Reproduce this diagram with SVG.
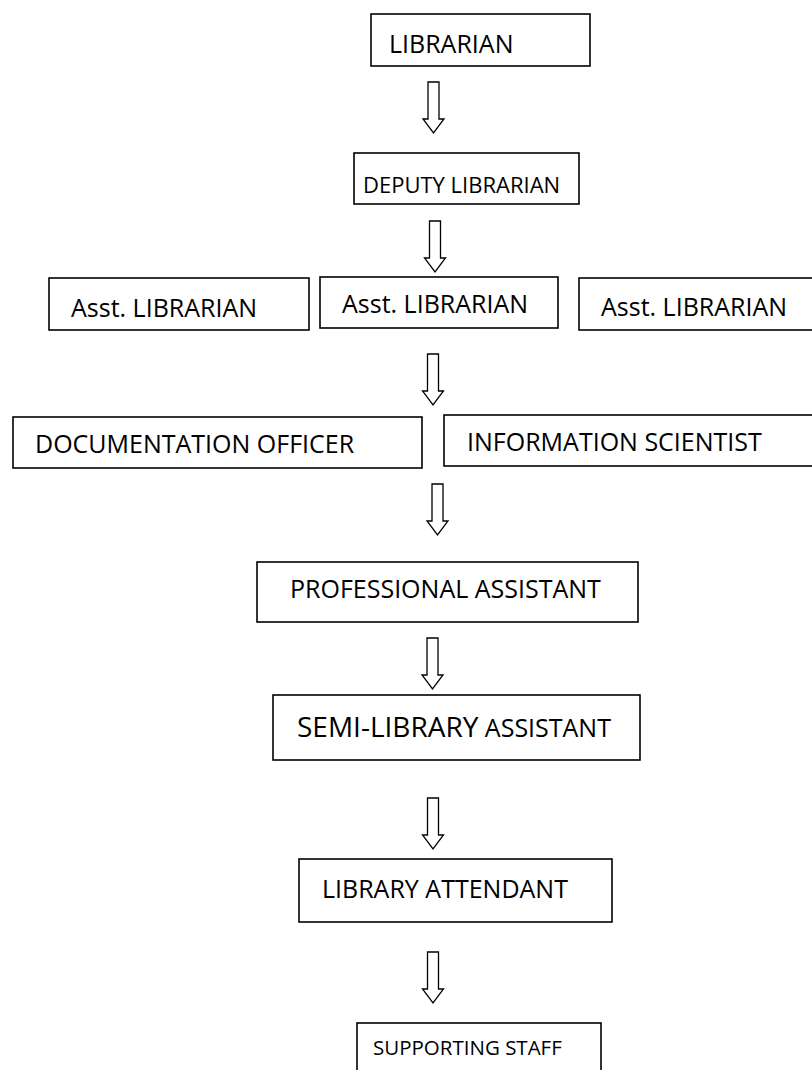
<svg xmlns="http://www.w3.org/2000/svg" width="812" height="1070" viewBox="0 0 812 1070">
<style>
.box{fill:#fff;stroke:#000;stroke-width:1.6}
.t{font-family:"Open Sans","Liberation Sans",sans-serif;font-size:25px;fill:#000}
.arr{fill:#fff;stroke:#000;stroke-width:1.3;stroke-linejoin:miter}
</style>
<defs>
<path id="a" d="M-5.5,0 H5.5 V37 H10.5 L0,51 L-10.5,37 H-5.5 Z"/>
</defs>
<rect width="812" height="1070" fill="#fff"/>
<g id="librarian"><rect class="box" x="371" y="14" width="219" height="52"/><text class="t" x="389" y="53">LIBRARIAN</text></g>
<g id="deputy"><rect class="box" x="354" y="153" width="225" height="51"/><text class="t" x="363" y="193" style="font-size:22px">DEPUTY LIBRARIAN</text></g>
<g id="asst1"><rect class="box" x="49" y="278" width="260" height="52"/><text class="t" x="71" y="317">Asst. LIBRARIAN</text></g>
<g id="asst2"><rect class="box" x="320" y="277" width="238" height="51"/><text class="t" x="342" y="313">Asst. LIBRARIAN</text></g>
<g id="asst3"><rect class="box" x="579" y="278" width="240" height="52"/><text class="t" x="601" y="316">Asst. LIBRARIAN</text></g>
<g id="doc"><rect class="box" x="13" y="417" width="409" height="51"/><text class="t" x="35" y="453">DOCUMENTATION OFFICER</text></g>
<g id="info"><rect class="box" x="444" y="415" width="380" height="51"/><text class="t" x="467" y="451">INFORMATION SCIENTIST</text></g>
<g id="prof"><rect class="box" x="257" y="562" width="381" height="60"/><text class="t" x="290" y="598">PROFESSIONAL ASSISTANT</text></g>
<g id="semi"><rect class="box" x="273" y="695" width="367" height="65"/><text class="t" x="297" y="737"><tspan style="font-size:28px">SEMI-LIBRARY</tspan> ASSISTANT</text></g>
<g id="attendant"><rect class="box" x="299" y="859" width="313" height="63"/><text class="t" x="322" y="898">LIBRARY ATTENDANT</text></g>
<g id="staff"><rect class="box" x="357" y="1023" width="244" height="50"/><text class="t" x="373" y="1055" style="font-size:20.5px">SUPPORTING STAFF</text></g>
<g id="connectors">
<use href="#a" class="arr" x="433.5" y="82"/>
<use href="#a" class="arr" x="435" y="221"/>
<use href="#a" class="arr" x="433" y="354"/>
<use href="#a" class="arr" x="437.5" y="484"/>
<use href="#a" class="arr" x="432.5" y="638"/>
<use href="#a" class="arr" x="433" y="798"/>
<use href="#a" class="arr" x="433" y="952"/>
</g>
</svg>
